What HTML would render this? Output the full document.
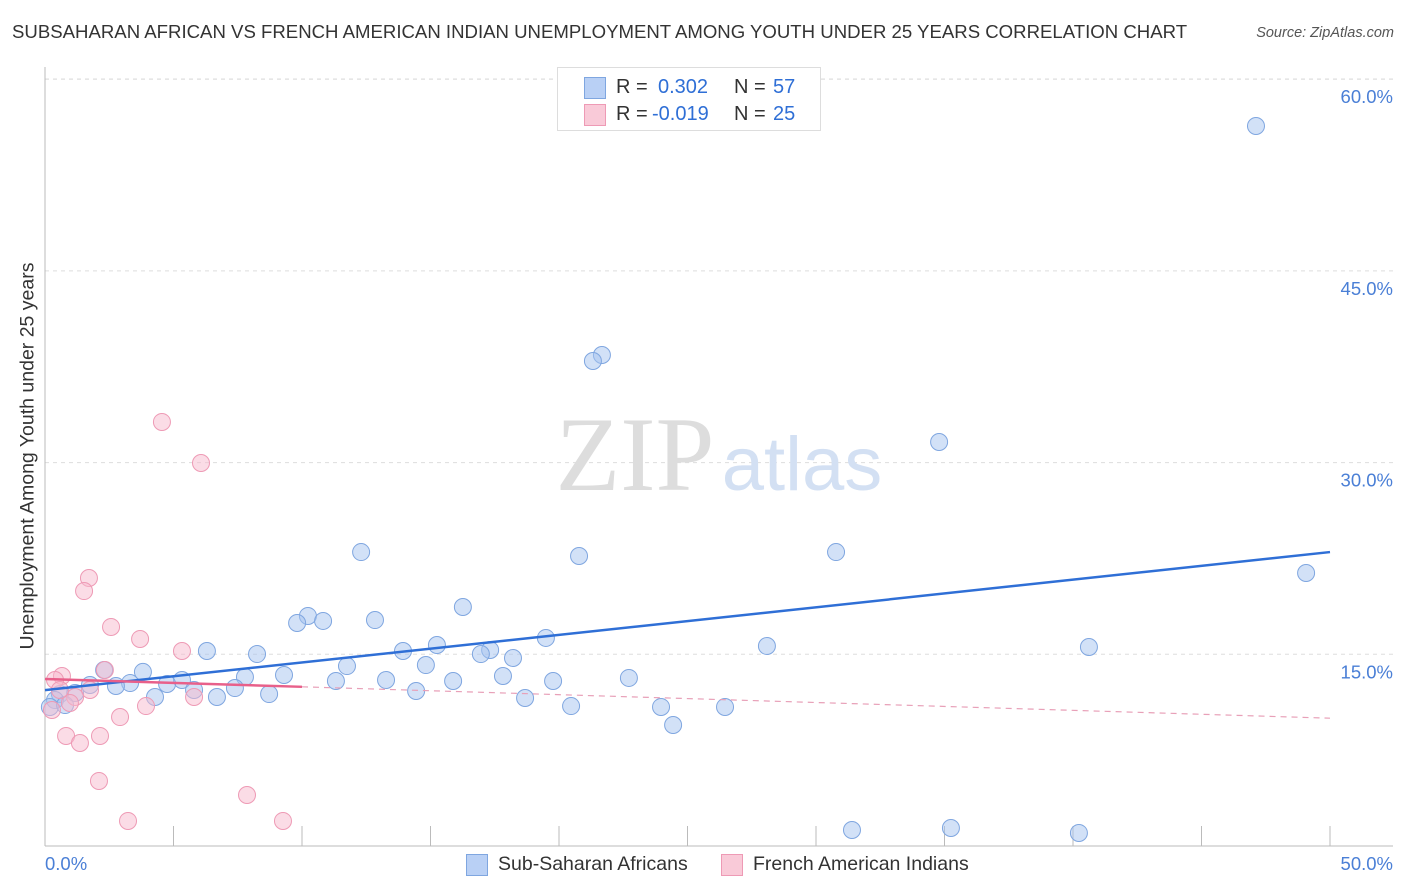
<!DOCTYPE html>
<html><head><meta charset="utf-8">
<style>
body{margin:0;background:#fff;font-family:"Liberation Sans",sans-serif;}
#wrap{position:relative;width:1406px;height:892px;overflow:hidden;}
.t{position:absolute;white-space:nowrap;}
</style></head><body>
<div id="wrap">
<div class="t" style="left:12px;top:21px;font-size:18.6px;color:#333;">SUBSAHARAN AFRICAN VS FRENCH AMERICAN INDIAN UNEMPLOYMENT AMONG YOUTH UNDER 25 YEARS CORRELATION CHART</div>
<div class="t" style="right:12px;top:25px;font-size:14.5px;color:#555;font-style:italic;">Source: ZipAtlas.com</div>
<svg id="svg" width="1406" height="892" style="position:absolute;left:0;top:0;"></svg>
</div>
<script>
const yTicks=[15,30,45,60];
const yTickLabels=["15.0%","30.0%","45.0%","60.0%"];
const xTickLabels=["0.0%","50.0%"];
const blueX=[47.12,21.67,21.32,34.79,12.30,20.78,30.78,49.07,16.26,10.23,10.82,9.81,12.84,19.49,15.25,28.09,40.62,6.30,8.25,13.93,17.32,16.96,18.21,11.75,14.82,3.81,2.30,9.30,7.78,13.27,17.82,22.72,19.77,15.88,11.32,5.33,4.75,3.31,2.76,1.75,7.39,5.80,14.44,8.72,4.28,6.69,1.17,0.58,18.68,20.47,23.97,26.46,24.44,31.40,35.25,40.23,0.39,0.19,0.78];
const blueY=[56.34,38.42,37.95,31.61,23.00,22.69,23.00,21.36,18.70,18.00,17.61,17.45,17.68,16.28,15.73,15.65,15.57,15.26,15.02,15.26,15.34,15.02,14.71,14.08,14.16,13.62,13.77,13.38,13.22,12.99,13.30,13.15,12.91,12.91,12.91,12.99,12.68,12.75,12.52,12.60,12.36,12.21,12.13,11.89,11.66,11.66,11.97,11.89,11.58,10.95,10.88,10.88,9.47,1.25,1.41,1.02,11.42,10.88,11.03];
const pinkX=[4.55,6.07,1.71,1.52,2.57,3.70,5.33,2.33,0.66,0.39,1.75,1.17,5.80,3.93,2.92,0.82,2.14,1.36,2.10,7.86,3.23,9.26,0.27,0.97,0.58];
const pinkY=[33.18,29.97,20.97,19.95,17.14,16.20,15.26,13.77,13.30,12.99,12.21,11.66,11.66,10.95,10.09,8.61,8.61,8.06,5.09,3.99,1.96,1.96,10.64,11.19,12.21];
const blueTrend=[12.2,23.0];
const pinkTrend=[13.07,10.0];
const pinkSolidEnd=10;

const X=v=>45+v*25.7, Y=v=>846-v*12.78;
const svg=document.getElementById('svg');const NS='http://www.w3.org/2000/svg';
function mk(t,a){const e=document.createElementNS(NS,t);for(const k in a)e.setAttribute(k,a[k]);svg.appendChild(e);return e;}
yTicks.forEach((v,i)=>{
 const g=mk('line',{x1:45,x2:1393,y1:Y(v),y2:Y(v),stroke:'#ddd','stroke-dasharray':'4,4'});
 
 
 const t=mk('text',{x:1393,y:Y(v)+24,'text-anchor':'end','font-size':18.5,fill:'#4a7fd6','font-family':'Liberation Sans'});
 t.textContent=yTickLabels[i];
 
 
});
const tg=mk('line',{x1:45,x2:1393,y1:79,y2:79,stroke:'#ddd','stroke-dasharray':'4,4'});


const ya=mk('line',{x1:45,x2:45,y1:67,y2:846,stroke:'#bbb'});


const xa=mk('line',{x1:45,x2:1393,y1:846,y2:846,stroke:'#bbb'});


for(let i=0;i<=10;i++){const l=mk('line',{x1:X(i*5),x2:X(i*5),y1:826,y2:846,stroke:'#bbb'});
 
 }
[[0,'start',45],[50,'end',1393]].forEach((p,i)=>{const t=mk('text',{x:p[2],y:870,'text-anchor':p[1],'font-size':18.5,fill:'#4a7fd6','font-family':'Liberation Sans'});t.textContent=xTickLabels[i];
 
 });
const w1=mk('text',{x:635,y:490,'text-anchor':'middle','font-size':106,fill:'#ddd','font-family':'Liberation Serif'});w1.textContent='ZIP';


const w2=mk('text',{x:802,y:490,'text-anchor':'middle','font-size':76,fill:'#d3e0f3','font-family':'Liberation Sans'});w2.textContent='atlas';


blueX.forEach((x,i)=>{const c=mk('circle',{cx:X(x),cy:Y(blueY[i]),r:8.5,fill:'rgba(165,195,240,0.5)',stroke:'#7fa6e0','stroke-width':1});
 
 });
pinkX.forEach((x,i)=>{const c=mk('circle',{cx:X(x),cy:Y(pinkY[i]),r:8.5,fill:'rgba(248,185,205,0.5)',stroke:'#ee9ab5','stroke-width':1});
 
 });
const bt=mk('line',{x1:X(0),y1:Y(blueTrend[0]),x2:X(50),y2:Y(blueTrend[1]),stroke:'#2f6fd6','stroke-width':2.5});


const pm=pinkTrend[0]+(pinkTrend[1]-pinkTrend[0])*pinkSolidEnd/50;
const pt=mk('line',{x1:X(0),y1:Y(pinkTrend[0]),x2:X(pinkSolidEnd),y2:Y(pm),stroke:'#e8608a','stroke-width':2.5});


const pd=mk('line',{x1:X(pinkSolidEnd),y1:Y(pm),x2:X(50),y2:Y(pinkTrend[1]),stroke:'#e8a0b8','stroke-width':1.2,'stroke-dasharray':'6,5'});


</script>
<div class="t" style="left:28px;top:456px;font-size:19.5px;color:#333;transform:translate(-50%,-50%) rotate(-90deg);">Unemployment Among Youth under 25 years</div>
<div style="position:absolute;left:557px;top:67px;width:262px;height:62px;border:1px solid #ddd;background:#fff;font-size:20px;">
 <div style="position:absolute;left:26px;top:8px;white-space:nowrap;"><span style="position:absolute;left:0;top:1px;width:20px;height:20px;background:#b9d0f5;border:1px solid #7fa6e0;"></span><span style="position:absolute;left:32px;color:#333;">R =</span><span style="position:absolute;left:74px;color:#2f6fd6;">0.302</span><span style="position:absolute;left:150px;color:#333;">N =</span><span style="position:absolute;left:189px;color:#2f6fd6;">57</span></div>
 <div style="position:absolute;left:26px;top:35px;white-space:nowrap;"><span style="position:absolute;left:0;top:1px;width:20px;height:20px;background:#f9cad8;border:1px solid #ee9ab5;"></span><span style="position:absolute;left:32px;color:#333;">R =</span><span style="position:absolute;left:68px;color:#2f6fd6;">-0.019</span><span style="position:absolute;left:150px;color:#333;">N =</span><span style="position:absolute;left:189px;color:#2f6fd6;">25</span></div>
</div>
<div style="position:absolute;left:466px;top:853px;font-size:19.5px;color:#333;white-space:nowrap;">
 <span style="position:absolute;left:0;top:0;"><span style="position:absolute;left:0;top:1px;width:20px;height:20px;background:#b9d0f5;border:1px solid #7fa6e0;"></span><span style="position:absolute;left:32px;">Sub-Saharan Africans</span></span>
 <span style="position:absolute;left:255px;top:0;"><span style="position:absolute;left:0;top:1px;width:20px;height:20px;background:#f9cad8;border:1px solid #ee9ab5;"></span><span style="position:absolute;left:32px;">French American Indians</span></span>
</div>
</body></html>
